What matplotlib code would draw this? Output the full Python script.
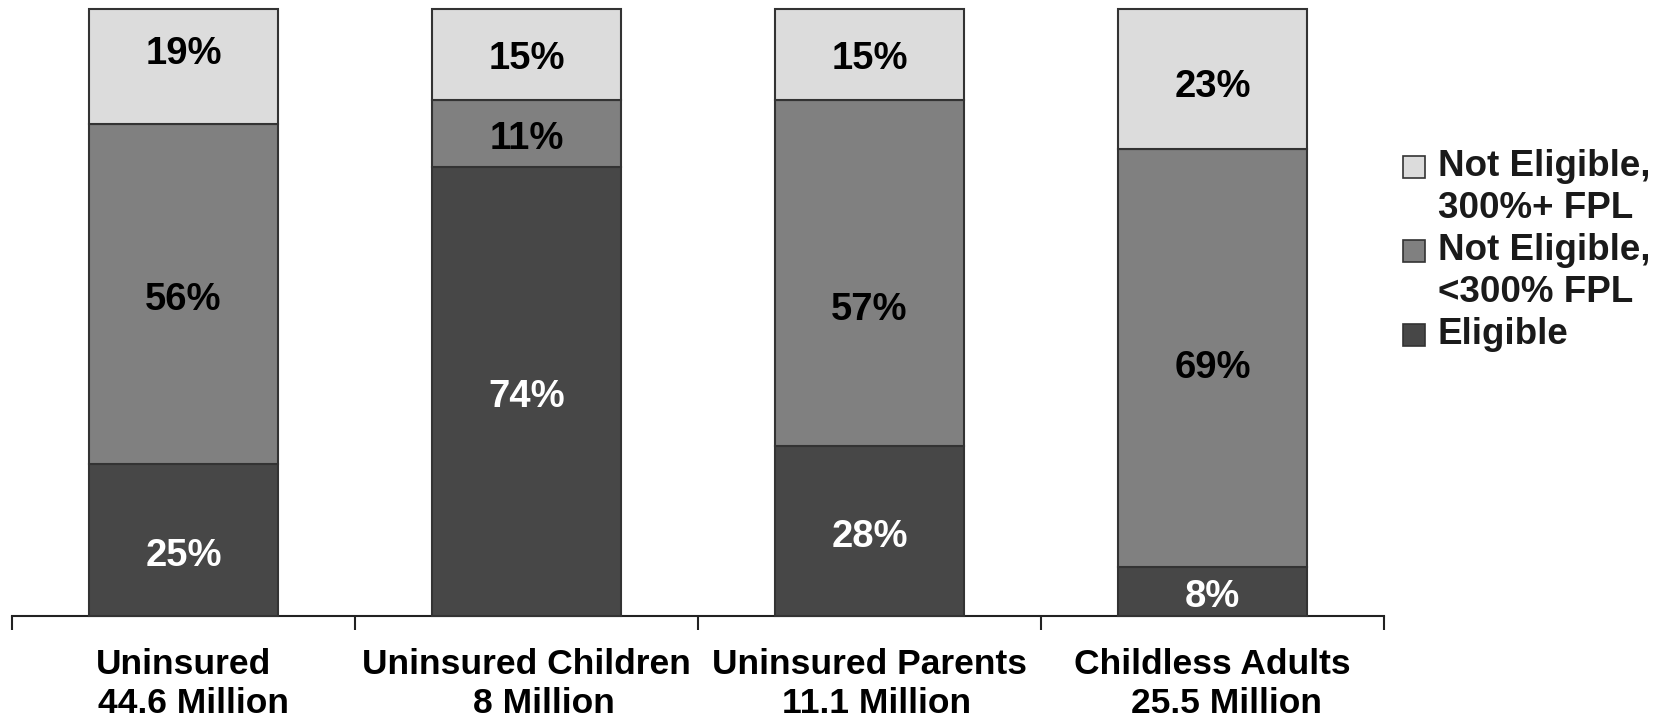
import matplotlib.pyplot as plt
from matplotlib.patches import Rectangle
from matplotlib.transforms import blended_transform_factory

plt.rcParams["font.family"] = ["Liberation Sans", "DejaVu Sans"]
plt.rcParams["font.weight"] = "bold"

# DATA
GROUPS = ["Uninsured", "Uninsured Children", "Uninsured Parents", "Childless Adults"]
TOTALS = ["44.6 Million", "8 Million", "11.1 Million", "25.5 Million"]
ELIGIBLE = [25, 74, 28, 8]
NOT_ELIG_LOW = [56, 11, 57, 69]
NOT_ELIG_HIGH = [19, 15, 15, 23]
SERIES_LABELS = ["Not Eligible,\n300%+ FPL", "Not Eligible,\n<300% FPL", "Eligible"]

# STYLE
COLOR_ELIG = "#474747"
COLOR_LOW = "#808080"
COLOR_HIGH = "#dcdcdc"
EDGE = "#333333"
W, H = 1663, 720

# label nudges (data units) so they sit where the source put them
NUDGE = {
	"elig": [-2.6, -1.0, -1.0, -0.9],
	"low": [-0.9, -0.9, -6.1, -1.7],
	"high": [2.1, -0.7, -0.7, -1.4],
}

fig = plt.figure(figsize=(W / 100, H / 100), dpi=100)
ax = fig.add_axes([12 / W, 104 / H, (1384 - 12) / W, (616 - 9) / H])

x = list(range(len(GROUPS)))
stacks = [(ELIGIBLE, COLOR_ELIG, "white", "elig"),
          (NOT_ELIG_LOW, COLOR_LOW, "black", "low"),
          (NOT_ELIG_HIGH, COLOR_HIGH, "black", "high")]

bottom = [0] * len(GROUPS)
for vals, col, tcol, key in stacks:
	ax.bar(x, vals, width=0.553, bottom=bottom, color=col,
	       edgecolor=EDGE, linewidth=1.5, clip_on=False, zorder=3)
	for i, v in enumerate(vals):
		ax.text(i, bottom[i] + v / 2 + NUDGE[key][i], f"{v}%",
		        ha="center", va="center", fontsize=27.5, color=tcol,
		        fontweight="bold", zorder=4)
	bottom = [b + v for b, v in zip(bottom, vals)]

ax.set_xlim(-0.5, len(GROUPS) - 0.5)
ax.set_ylim(0, 100)
for s in ["top", "left", "right"]:
	ax.spines[s].set_visible(False)
ax.spines["bottom"].set_linewidth(1.5)
ax.spines["bottom"].set_color("#222222")
ax.set_yticks([])
ax.set_xticks([i - 0.5 for i in range(len(GROUPS) + 1)])
ax.set_xticklabels([])
ax.tick_params(axis="x", length=10, width=1.5, color="#222222")

# Category labels (two lines, second line slightly offset as in source)
trans = blended_transform_factory(ax.transData, ax.transAxes)
offsets = [0.03, 0.05, 0.02, 0.04]
for i, (g, t) in enumerate(zip(GROUPS, TOTALS)):
	ax.text(i, -0.096, g, transform=trans, ha="center", va="baseline",
	        fontsize=25.5, fontweight="bold")
	ax.text(i + offsets[i], -0.159, t, transform=trans, ha="center",
	        va="baseline", fontsize=25.5, fontweight="bold")

# Legend (drawn by hand so the square sits on the first line)
leg_colors = [COLOR_HIGH, COLOR_LOW, COLOR_ELIG]
line_h = 42
y0 = 167
row = 0
for lab, col in zip(SERIES_LABELS, leg_colors):
	yc = y0 + row * line_h
	fig.patches.append(Rectangle((1403 / W, (H - yc - 11) / H), 22 / W, 22 / H,
	                             transform=fig.transFigure, facecolor=col,
	                             edgecolor=EDGE, linewidth=1.2))
	for ln in lab.split("\n"):
		fig.text(1438 / W, (H - (y0 + row * line_h)) / H, ln,
		         ha="left", va="center", fontsize=26.5, fontweight="bold",
		         color="#1a1a1a")
		row += 1

plt.savefig("out.png", dpi=100)
plt.close()
